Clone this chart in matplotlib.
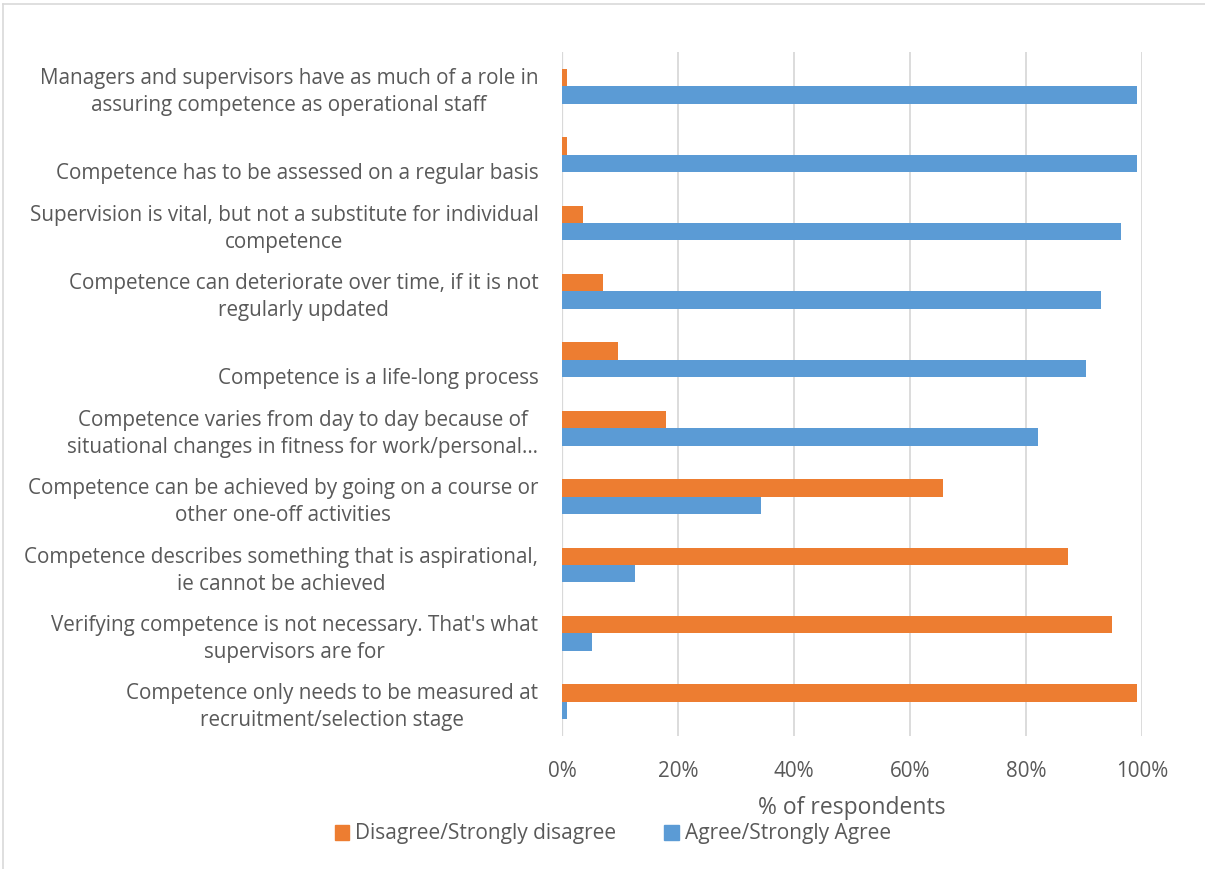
import matplotlib.pyplot as plt
import numpy as np
from matplotlib.lines import Line2D
from matplotlib.patches import Patch
from matplotlib.ticker import PercentFormatter

# statements, top to bottom
statements = [
    "Managers and supervisors have as much of a role in\nassuring competence as operational staff",
    "\nCompetence has to be assessed on a regular basis",
    "Supervision is vital, but not a substitute for individual\ncompetence",
    "Competence can deteriorate over time, if it is not\nregularly updated",
    "\nCompetence is a life-long process",
    "Competence varies from day to day because of\nsituational changes in fitness for work/personal\u2026",
    "Competence can be achieved by going on a course or\nother one-off activities",
    "Competence describes something that is aspirational,\nie cannot be achieved",
    "Verifying competence is not necessary. That's what\nsupervisors are for",
    "Competence only needs to be measured at\nrecruitment/selection stage",
]
disagree = [0.8, 0.8, 3.6, 7.1, 9.6, 17.9, 65.7, 87.3, 94.8, 99.2]
agree = [99.2, 99.2, 96.4, 92.9, 90.4, 82.1, 34.3, 12.6, 5.2, 0.8]
x_ticks = [0, 20, 40, 60, 80, 100]

ORANGE = "#ED7D31"
BLUE = "#5B9BD5"
GRID = "#D9D9D9"
TEXT = "#595959"
FONT = "Open Sans"

plt.rcParams["font.family"] = [FONT, "DejaVu Sans"]

fig = plt.figure(figsize=(12.05, 8.69), dpi=100)
ax = fig.add_axes([562 / 1205, 1 - 736 / 869, 580 / 1205, 684 / 869])

y = np.arange(len(statements))
h = 0.255
ax.barh(y - h / 2, disagree, height=h, color=ORANGE, label="Disagree/Strongly disagree")
ax.barh(y + h / 2, agree, height=h, color=BLUE, label="Agree/Strongly Agree")

ax.set_ylim(len(statements) - 0.5, -0.5)
ax.set_xlim(0, 100)
ax.set_xticks(x_ticks)
ax.xaxis.set_major_formatter(PercentFormatter(decimals=0))
ax.set_yticks(y)
ax.set_yticklabels(statements, ha="right", multialignment="center", linespacing=1.38)
ax.grid(axis="x", color=GRID, linewidth=1.3)
ax.set_axisbelow(True)
for s in ax.spines.values():
    s.set_visible(False)
ax.axvline(0, color=GRID, linewidth=1.6, zorder=0.5)
ax.tick_params(axis="both", length=0, colors=TEXT, labelsize=14.9)
ax.tick_params(axis="x", pad=18)
ax.tick_params(axis="y", pad=17)
ax.set_xlabel("% of respondents", color=TEXT, fontsize=16.5, labelpad=10)

handles = [Patch(color=ORANGE), Patch(color=BLUE)]
fig.legend(handles, ["Disagree/Strongly disagree", "Agree/Strongly Agree"],
           loc="center", bbox_to_anchor=(613 / 1205, 1 - 834 / 869), ncol=2,
           frameon=False, fontsize=15, labelcolor=TEXT, handlelength=0.7,
           handleheight=0.7, handletextpad=0.3, columnspacing=2.3)

# chart area border
fig.add_artist(Line2D([3 / 1205, 3 / 1205], [0, 1 - 4 / 869], color=GRID, linewidth=1.2))
fig.add_artist(Line2D([3 / 1205, 1], [1 - 4 / 869, 1 - 4 / 869], color=GRID, linewidth=1.2))

fig.savefig("out.png", dpi=100)
